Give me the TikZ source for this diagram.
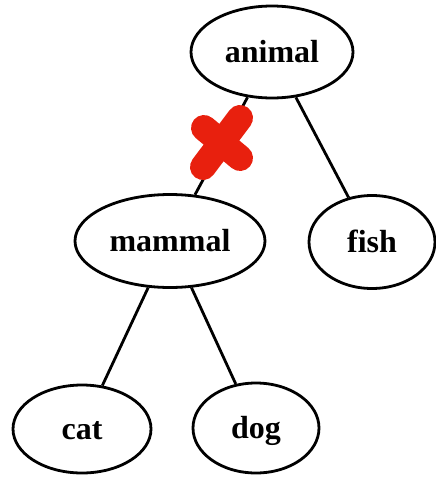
\documentclass[tikz,border=0pt]{standalone}
\usepackage{fontspec}
\setmainfont{Liberation Serif}
\usetikzlibrary{shapes.geometric}
\definecolor{xred}{RGB}{232,32,14}
\tikzset{
  tnode/.style={draw=black, line width=2.8pt, ellipse, inner sep=0pt,
    text height=24pt, text depth=4pt,
    font=\fontsize{32}{32}\selectfont\bfseries},
  tedge/.style={draw=black, line width=2.8pt},
  cross/.style={draw=xred, line width=26pt, line cap=round}
}
\begin{document}
\begin{tikzpicture}[x=1pt,y=-1pt]
\useasboundingbox (0,0) rectangle (436,477);
\node[tnode, minimum width=162pt, minimum height=92pt] (animal) at (272,52) {animal};
\node[tnode, minimum width=190pt, minimum height=93pt] (mammal) at (170,241) {mammal};
\node[tnode, minimum width=126pt, minimum height=93pt] (fish) at (372,242) {fish};
\node[tnode, minimum width=138pt, minimum height=88pt] (cat) at (82,429) {cat};
\node[tnode, minimum width=126pt, minimum height=90pt] (dog) at (256,428) {dog};
\draw[tedge] (animal) -- (mammal);
\draw[tedge] (animal) -- (fish);
\draw[tedge] (mammal) -- (cat);
\draw[tedge] (mammal) -- (dog);
\draw[cross] (240,118) -- (203,167);
\draw[cross] (204,128) -- (240,158);
\end{tikzpicture}
\end{document}
